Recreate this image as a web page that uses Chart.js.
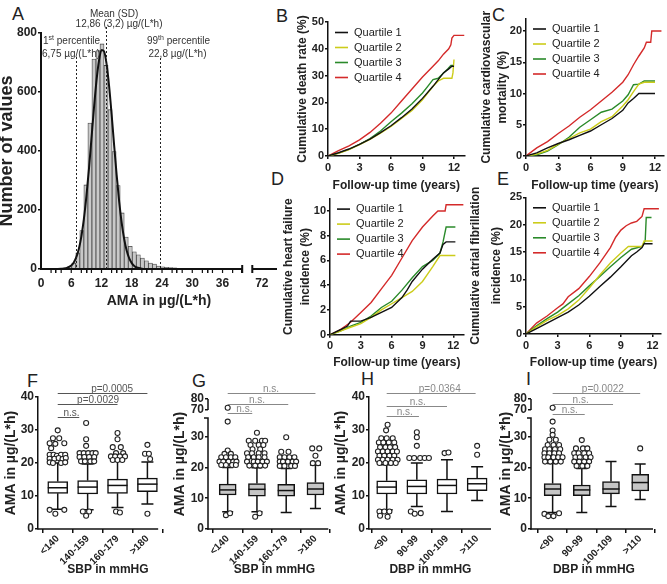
<!DOCTYPE html>
<html>
<head>
<meta charset="utf-8">
<script src="https://cdn.jsdelivr.net/npm/chart.js@4.4.1/dist/chart.umd.min.js"></script>
<style>
  body { margin: 0; background: #fff; }
  #fig { position: relative; width: 667px; height: 584px; overflow: hidden; background: #fff;
         font-family: "Liberation Sans", Arial, Helvetica, sans-serif; }
  #fig canvas { position: absolute; }
  .lt { position: absolute; font-size: 18px; line-height: 18px; color: #222; }
</style>
</head>
<body>
<div id="fig">
  <div class="lt" style="left:12px;top:5px">A</div>
  <div class="lt" style="left:276px;top:7px">B</div>
  <div class="lt" style="left:492px;top:6px">C</div>
  <div class="lt" style="left:271px;top:170px">D</div>
  <div class="lt" style="left:497px;top:170px">E</div>
  <div class="lt" style="left:27px;top:372px">F</div>
  <div class="lt" style="left:192px;top:372px">G</div>
  <div class="lt" style="left:361px;top:370px">H</div>
  <div class="lt" style="left:526px;top:370px">I</div>
</div>
<script>
// ---- A: histogram of AMA values ----
const histCenters = [4.1, 4.9, 5.7, 6.5, 7.3, 8.1, 8.9, 9.7, 10.5, 11.3, 12.1, 12.9, 13.7, 14.5, 15.3, 16.1,
                     16.9, 17.7, 18.5, 19.3, 20.1, 20.9, 21.7, 22.5, 23.3, 24.1, 24.9, 25.7, 26.5, 27.3, 28.1, 28.9];
const histCounts = [2, 4, 8, 20, 55, 130, 285, 495, 712, 740, 763, 690, 540, 398, 283, 190,
                    108, 77, 58, 48, 37, 28, 20, 17, 10, 7, 6, 5, 4, 2, 1, 1];
const fitX = [3, 4, 5, 6, 6.5, 7, 7.5, 8, 8.5, 9, 9.5, 10, 10.5, 11, 11.5, 12, 12.5, 13, 13.5, 14,
              14.5, 15, 15.5, 16, 16.5, 17, 17.5, 18, 18.5, 19, 20, 21];
const fitY = [0, 0.5, 3, 12, 22, 40, 68, 110, 169, 246, 338, 441, 545, 638, 706, 742, 738, 695, 621, 525,
              420, 319, 229, 156, 101, 62, 36, 20, 10, 5, 1, 0];
const refLineValues = [7.0, 12.9, 23.5];          // 1st percentile, mean, 99th percentile
const histTickValues = [0, 6, 12, 18, 24, 30, 36, 43.8];
const histTickLabels = ['0', '6', '12', '18', '24', '30', '36', '72'];
const axisBreak = [39.9, 41.9];

// ---- B-E: cumulative incidence by quartile, [years, %] ----
const quartileLabels = ['Quartile 1', 'Quartile 2', 'Quartile 3', 'Quartile 4'];
const quartileColors = ['#111111', '#cccc1a', '#2a8a2a', '#d42a2a'];

const deathQ1 = [[0,0],[1,1.2],[2,2.6],[3,4.3],[4,6.3],[5,8.7],[6,11.3],[7,14.3],[8,17.5],[9,21.5],[10,26],[10.5,28.5],[11,31],[11.5,32.5],[11.8,33.5],[12,33.5]];
const deathQ2 = [[0,0],[1,1],[2,2.4],[3,4.2],[4,6.2],[5,8.5],[6,11],[7,14],[8,17],[9,21],[10,26],[10.5,28],[11,29],[11.8,29],[11.9,31],[12,36]];
const deathQ3 = [[0,0],[1,1.1],[2,2.5],[3,4.3],[4,6.5],[5,9.3],[6,12.8],[7,16],[8,19.5],[9,23.5],[9.5,26],[10,28.5],[10.5,29],[11,31],[11.4,32.5],[11.7,33.8],[12,33.8]];
const deathQ4 = [[0,0],[1,2],[2,3.8],[3,6],[4,8.8],[5,12.2],[6,16],[7,20.5],[8,25],[9,29.5],[10,33.5],[10.5,35.5],[11,38],[11.5,40],[11.7,41.5],[11.8,44],[12,45],[13,45]];

const cvQ1 = [[0,0],[1,0.5],[2,1.3],[3,2],[4,2.6],[5,3.3],[6,4],[7,5],[8,6],[9,7.3],[9.5,8.5],[10,9.2],[10.5,10],[12,10]];
const cvQ2 = [[0,0],[1,0.3],[2,0.9],[3,1.9],[4,2.8],[5,3.7],[6,4.3],[7,5.5],[8,6.3],[9,8],[9.5,9],[10,10.3],[10.5,11.5],[11,11.8],[12,11.8]];
const cvQ3 = [[0,0],[1,0.2],[2,0.8],[3,1.8],[4,3],[5,4.6],[6,5.8],[7,7],[8,7.5],[9,8.8],[9.5,9.8],[10,11.4],[10.5,11.5],[11,12],[12,12]];
const cvQ4 = [[0,0],[1,1.3],[2,2.3],[3,3.6],[4,4.8],[5,6.2],[6,7.4],[7,8.8],[8,10.2],[9,11.8],[9.5,13],[10,14.6],[10.5,16],[11,17.3],[11.2,18.2],[11.6,18.2],[11.7,20],[12.6,20]];

const hfQ1 = [[0,0],[1,0.4],[1.7,0.7],[2,1.1],[3,1.1],[4,1.4],[5,1.8],[6,2.2],[7,3],[7.5,3.6],[8,4.3],[9,5.3],[10,6.1],[10.7,6.6],[11,7.3],[11.3,7.5],[12.2,7.5]];
const hfQ2 = [[0,0],[1,0.3],[2,0.6],[3,0.9],[4,1.4],[5,2],[6,2.5],[7,3],[8,3.5],[9,4.3],[10,5.5],[10.7,6.4],[12.2,6.4]];
const hfQ3 = [[0,0],[1,0.3],[2,0.7],[3,1],[4,1.5],[5,2.2],[6,2.7],[7,3.6],[8,4.6],[9,5.5],[10,6],[10.7,6.6],[11,7.5],[11.3,8.7],[12.2,8.7]];
const hfQ4 = [[0,0],[0.8,0.3],[1.5,0.7],[2,1],[3,1.8],[4,2.6],[5,3.7],[6,4.8],[7,6.2],[8,7.6],[9,8.7],[10,9.6],[10.5,10],[11.2,10],[11.3,10.5],[13,10.5]];

const afQ1 = [[0,0],[1,1],[2,2],[3,3],[4,4],[5,5.3],[6,6.9],[7,8.7],[8,10.4],[9,12.3],[10,14.3],[10.5,15],[11,15.8],[11.2,16.5],[12,16.5]];
const afQ2 = [[0,0],[1,1.3],[2,2.5],[3,3.4],[4,4.6],[5,6.2],[6,8.4],[7,10.8],[8,13],[9,14.8],[9.7,16],[11,16],[11.2,17],[12,17]];
const afQ3 = [[0,0],[1,1.5],[2,2.8],[3,4],[4,5.5],[5,7],[6,8.8],[7,10.5],[8,12.3],[9,14],[10,15.5],[11,16],[11.3,17],[11.4,21.3],[11.9,21.3]];
const afQ4 = [[0,0],[0.5,1],[1,2],[2,3.3],[3,4.8],[3.5,5.5],[4,6.8],[5,8.3],[6,10.5],[7,13],[8,15.8],[8.5,17.7],[9,19],[9.5,19.8],[10,20.3],[10.5,20.6],[11,21.5],[11.2,22.9],[12.6,22.9]];

// ---- F-I: AMA by blood pressure group, box = [low whisker, q1, median, q3, high whisker] ----
const sbpGroups = ['<140', '140-159', '160-179', '>180'];
const dbpGroups = ['<90', '90-99', '100-109', '>110'];

const boxF = [[6.0,10.8,12.5,14.4,20],[5.8,10.6,12.7,14.7,19.7],[6.5,10.8,13.2,15.1,20.5],[7.6,11.3,13.6,15.4,20.3]];
const boxG = [[5.6,11.05,12.7,14.6,20],[5.6,10.7,12.9,14.8,19.9],[5.4,10.7,12.5,14.5,19.7],[6.7,11.05,13,15.1,20.8]];
const boxH = [[5.8,10.6,12.7,14.6,19.5],[6.8,10.6,12.9,14.9,20],[5.3,10.6,13.2,15.1,21],[8.6,11.6,13.7,15.4,18.9]];
const boxI = [[5.4,10.8,13,14.8,21.3],[5.4,10.8,12.7,14.3,19.7],[7.3,11.4,13,15.4,21.9],[9.6,12.35,15.1,17.8,21.1]];

// outliers: [group, horizontal spread, value]
const outF = [
  [0,0,29.9],[0,-0.16,27.5],[0,0.05,27.5],[0,-0.27,26],[0,-0.08,25.8],[0,0.22,26],[0,-0.22,24.5],
  [0,-0.27,22.5],[0,-0.14,22.5],[0,-0.03,22.2],[0,0.11,22.5],[0,0.25,22.5],
  [0,-0.27,21.3],[0,-0.11,21.3],[0,0.03,21.5],[0,0.16,21.2],[0,0.27,21.5],
  [0,-0.27,20.2],[0,-0.16,20],[0,0.11,20],[0,0.25,20.2],[0,-0.27,5.8],[0,-0.08,4.6],[0,0.22,5.8],
  [1,-0.05,32.1],[1,-0.05,27.2],[1,-0.05,25.2],[1,-0.27,23],[1,-0.13,23],[1,0.02,23],[1,0.16,23],[1,0.27,23],
  [1,-0.27,21.8],[1,-0.11,21.8],[1,0.05,21.8],[1,0.22,21.8],[1,-0.22,20.5],[1,-0.09,20.5],[1,0.09,20.5],[1,0.22,20.5],
  [1,-0.16,5.3],[1,0.05,5.3],[1,-0.05,4],
  [2,0,29.1],[2,0,27.2],[2,-0.16,24.8],[2,0.11,24.8],[2,-0.05,23],[2,0.19,23],
  [2,-0.22,22],[2,-0.08,22],[2,0.08,22],[2,0.25,22],[2,-0.16,20.9],[2,0,20.9],[2,0.16,20.9],[2,-0.05,5.3],[2,0.08,5],
  [3,0,25.5],[3,-0.08,22.8],[3,0.05,22.8],[3,0.09,21.2],[3,0,4.6]
];
const outG = [
  [0,0,72],[0,0,34.9],[0,0,25.5],[0,-0.11,24.4],[0,0.11,24.4],
  [0,-0.22,23.3],[0,-0.06,23.3],[0,0.11,23.3],[0,0.26,23.3],
  [0,-0.28,21.9],[0,-0.15,21.9],[0,0.03,21.9],[0,0.19,21.9],[0,0.3,21.9],
  [0,-0.22,20.8],[0,-0.06,20.8],[0,0.15,20.8],[0,0.28,20.8],[0,-0.06,4.5],[0,0.08,5.1],
  [1,0,31.3],[1,-0.28,28.7],[1,-0.06,28.7],[1,0.17,28.7],[1,0.28,28.7],[1,-0.22,27.3],[1,0.06,27.3],[1,0.22,27.3],
  [1,-0.15,25.9],[1,0.11,25.9],[1,-0.34,24.6],[1,-0.17,24.6],[1,0.06,24.6],[1,0.26,24.6],
  [1,-0.3,23.3],[1,-0.11,23.3],[1,0.06,23.3],[1,0.26,23.3],
  [1,-0.34,21.9],[1,-0.11,21.9],[1,0.03,21.9],[1,0.19,21.9],[1,0.34,21.9],
  [1,-0.26,20.6],[1,-0.06,20.6],[1,0.11,20.6],[1,0.28,20.6],[1,-0.06,4],[1,0.09,5.1],
  [2,0,29.8],[2,-0.17,25.1],[2,0.08,25.1],[2,-0.22,23.3],[2,-0.06,23.3],[2,0.11,23.3],[2,0.28,23.3],
  [2,-0.22,21.9],[2,-0.11,21.9],[2,0.06,21.9],[2,0.22,21.9],[2,0.34,21.9],
  [2,-0.22,20.5],[2,-0.06,20.5],[2,0.17,20.5],[2,0.3,20.5],
  [3,-0.11,26.2],[3,0.13,26.2],[3,0,23.8],[3,-0.09,21.4],[3,0.09,21.4]
];
const outH = [
  [0,0.03,31.6],[0,-0.02,29.9],[0,-0.18,27.5],[0,0,27.5],[0,0.2,27.5],
  [0,-0.26,26.2],[0,-0.11,26.2],[0,0.07,26.2],[0,0.25,26.2],
  [0,-0.22,24.8],[0,-0.04,24.8],[0,0.11,24.8],[0,0.28,24.8],
  [0,-0.29,23.5],[0,-0.13,23.5],[0,0.03,23.5],[0,0.2,23.5],[0,0.34,23.5],
  [0,-0.24,22.2],[0,-0.08,22.2],[0,0.09,22.2],[0,0.25,22.2],
  [0,-0.29,21],[0,-0.13,21],[0,0.03,21],[0,0.2,21],[0,0.36,21],
  [0,-0.24,20],[0,-0.04,20],[0,0.14,20],[0,0.3,20],
  [0,-0.24,5.3],[0,-0.08,5.3],[0,0.09,5.3],[0,-0.22,4],[0,0.03,3.7],
  [1,0,29.3],[1,0,27.8],[1,0,25.2],[1,-0.25,21.5],[1,-0.09,21.5],[1,0.11,21.5],[1,0.26,21.5],[1,0.4,21.5],
  [1,-0.2,5.3],[1,-0.07,4.6],[1,0.13,4.8],
  [2,-0.08,23],[2,0.05,23.2],
  [3,0,25.2],[3,0,22.5]
];
const outI = [
  [0,0,72],[0,0,34.9],[0,0,32],[0,0,30.6],[0,-0.11,29],[0,0.11,29],
  [0,-0.17,27.3],[0,0.03,27.3],[0,0.22,27.3],[0,-0.26,25.9],[0,-0.11,25.9],[0,0.08,25.9],[0,0.26,25.9],
  [0,-0.28,24.6],[0,-0.11,24.6],[0,0.06,24.6],[0,0.22,24.6],
  [0,-0.28,23.3],[0,-0.15,23.3],[0,0.03,23.3],[0,0.19,23.3],[0,0.34,23.3],
  [0,-0.26,21.9],[0,-0.08,21.9],[0,0.11,21.9],[0,0.28,21.9],
  [0,-0.28,4.9],[0,-0.15,4.2],[0,0.03,4.2],[0,0.22,5.1],
  [1,0,28.9],[1,-0.2,26.2],[1,0.04,26.2],[1,0.19,26.2],
  [1,-0.26,24.6],[1,-0.11,24.6],[1,0.08,24.6],[1,0.25,24.6],
  [1,-0.22,23.3],[1,-0.07,23.3],[1,0.13,23.3],[1,0.3,23.3],
  [1,-0.26,21.9],[1,-0.09,21.9],[1,0.08,21.9],[1,0.25,21.9],
  [1,-0.18,20.5],[1,0.02,20.5],[1,0.19,20.5],
  [3,0,26.2]
];

// significance brackets: [from group, to group, height, label, label position]
const sigF = [[0,3,41.2,'p=0.0005',1.82],[0,2,37.9,'p=0.0029',1.35],[0,0.72,33.9,'n.s.',0.46]];
const sigG = [[0,3,44.2,'n.s.',1.48],[0,2.07,40.6,'n.s.',1.0],[0,0.84,37.7,'n.s.',0.57]];
const sigH = [[0,2.95,41.2,'p=0.0364',1.76],[0,2,37.3,'n.s.',1.03],[0,1.07,34.2,'n.s.',0.6]];
const sigI = [[0,3,44.2,'p=0.0022',1.72],[0,2.07,40.6,'n.s.',0.96],[0,1.1,37.4,'n.s.',0.59]];

const brokenTicks = [0, 10, 20, 30, 70, 80];

// ---------------------------------------------------------------
const FONT = '"Liberation Sans", Arial, Helvetica, sans-serif';
Chart.defaults.font.family = FONT;
Chart.defaults.color = '#222';
Chart.defaults.animation = false;
Chart.defaults.responsive = false;
Chart.defaults.plugins.legend.display = false;
Chart.defaults.plugins.tooltip.enabled = false;

const fig = document.getElementById('fig');

function addCanvas(box) {
  const c = document.createElement('canvas');
  c.width = box.w; c.height = box.h;
  c.style.left = box.l + 'px'; c.style.top = box.t + 'px';
  c.style.width = box.w + 'px'; c.style.height = box.h + 'px';
  fig.appendChild(c);
  return c;
}

function padding(box, plot) {
  return { top: plot.t - box.t, right: box.l + box.w - plot.r, left: 0, bottom: 0 };
}

// upper part of the broken axis (70-80) is squeezed above 36
function brokenY(v) {
  return v >= 60 ? 38.7 + (v - 70) * 0.355 : v;
}

// ---------------- Panel A ----------------
const histDecor = {
  id: 'histDecor',
  afterDatasetsDraw(chart) {
    const { ctx, chartArea: a, scales: { x } } = chart;
    ctx.save();
    ctx.strokeStyle = '#222';
    ctx.lineWidth = 1;
    ctx.setLineDash([2, 2]);
    const tops = [24, -6, 25];
    refLineValues.forEach((v, i) => {
      const px = Math.round(x.getPixelForValue(v)) + 0.5;
      ctx.beginPath();
      ctx.moveTo(px, a.top + tops[i]);
      ctx.lineTo(px, a.bottom);
      ctx.stroke();
    });
    ctx.setLineDash([]);

    // x axis with a break before 72
    const yb = a.bottom;
    ctx.strokeStyle = '#111';
    ctx.lineWidth = 2;
    ctx.beginPath();
    ctx.moveTo(a.left - 1, yb);
    ctx.lineTo(x.getPixelForValue(axisBreak[0]), yb);
    ctx.moveTo(x.getPixelForValue(axisBreak[1]), yb);
    ctx.lineTo(a.right, yb);
    axisBreak.forEach(v => {
      const px = x.getPixelForValue(v);
      ctx.moveTo(px, yb - 4);
      ctx.lineTo(px, yb + 4);
    });
    ctx.stroke();
    // minor ticks
    ctx.lineWidth = 1.2;
    ctx.beginPath();
    for (let v = 2; v < axisBreak[0]; v += 2) {
      const px = x.getPixelForValue(v);
      ctx.moveTo(px, yb);
      ctx.lineTo(px, yb + 4);
    }
    ctx.stroke();
    ctx.restore();
  },
  afterDraw(chart) {
    const { ctx, chartArea: a, scales: { x } } = chart;
    ctx.save();
    ctx.fillStyle = '#333';
    ctx.textBaseline = 'middle';
    ctx.font = '10px ' + FONT;

    function supText(base, sup, rest, px, py, align) {
      ctx.font = '10px ' + FONT;
      const w1 = ctx.measureText(base).width, w3 = ctx.measureText(rest).width;
      ctx.font = '7px ' + FONT;
      const w2 = ctx.measureText(sup).width;
      let sx = align === 'center' ? px - (w1 + w2 + w3) / 2 : px;
      ctx.textAlign = 'left';
      ctx.font = '10px ' + FONT;
      ctx.fillText(base, sx, py);
      ctx.font = '7px ' + FONT;
      ctx.fillText(sup, sx + w1, py - 3);
      ctx.font = '10px ' + FONT;
      ctx.fillText(rest, sx + w1 + w2, py);
    }

    const xm = x.getPixelForValue(refLineValues[1]);
    const x99 = x.getPixelForValue(refLineValues[2]);
    ctx.textAlign = 'center';
    ctx.fillText('Mean (SD)', xm + 8, a.top - 19);
    ctx.fillText('12,86 (3,2) µg/(L*h)', xm + 13, a.top - 8.5);
    ctx.fillText('22,8 µg/(L*h)', x99 + 18, a.top + 21);
    supText('99', 'th', ' percentile', x99 + 19, a.top + 8, 'center');
    supText('1', 'st', ' percentile', a.left + 2, a.top + 8, 'left');
    ctx.textAlign = 'left';
    ctx.fillText('6,75 µg/(L*h)', a.left + 1, a.top + 21);
    ctx.restore();
  }
};

(function () {
  const box = { l: -2, t: 0, w: 292, h: 310 };
  const plot = { l: 41, t: 33, r: 277, b: 269 };
  new Chart(addCanvas(box), {
    type: 'bar',
    data: {
      datasets: [
        {
          type: 'line', order: 0,
          data: fitX.map((v, i) => ({ x: v, y: fitY[i] })),
          borderColor: '#111', borderWidth: 2, pointRadius: 0,
          cubicInterpolationMode: 'monotone', fill: false
        },
        {
          type: 'bar', order: 1,
          data: histCenters.map((v, i) => ({ x: v, y: histCounts[i] })),
          backgroundColor: '#c9c9c9', borderColor: '#444', borderWidth: 0.8,
          barPercentage: 1, categoryPercentage: 1
        }
      ]
    },
    options: {
      layout: { padding: padding(box, plot) },
      scales: {
        x: {
          type: 'linear', min: 0, max: 46.8, offset: false,
          afterBuildTicks: s => { s.ticks = histTickValues.map(v => ({ value: v })); },
          ticks: { callback: (v, i) => histTickLabels[i], font: { size: 12, weight: 'bold' }, padding: 3, maxRotation: 0, autoSkip: false },
          grid: { drawOnChartArea: false, tickLength: 4, color: '#111', lineWidth: 1.5 },
          border: { display: false },
          title: { display: true, text: 'AMA in µg/(L*h)', font: { size: 14, weight: 'bold', lineHeight: 1.2 }, padding: 0, color: '#222' },
          afterFit: s => { s.height = box.t + box.h - plot.b; }
        },
        y: {
          min: 0, max: 800,
          ticks: { stepSize: 200, font: { size: 12, weight: 'bold' }, padding: 1 },
          grid: { drawOnChartArea: false, tickLength: 3, color: '#111', lineWidth: 1.5 },
          border: { color: '#111', width: 2 },
          title: { display: true, text: 'Number of values', font: { size: 18, weight: 'bold', lineHeight: 1 }, padding: 0, color: '#222' },
          afterFit: s => { s.width = plot.l - box.l; }
        }
      }
    },
    plugins: [histDecor]
  });
})();

// ---------------- Panels B-E ----------------
const quartLegend = {
  id: 'quartLegend',
  afterDraw(chart) {
    const { ctx, chartArea: a } = chart;
    ctx.save();
    ctx.font = '11px ' + FONT;
    ctx.textBaseline = 'middle';
    ctx.textAlign = 'left';
    chart.data.datasets.forEach((d, i) => {
      const y = a.top + 10.5 + 15 * i;
      ctx.strokeStyle = d.borderColor;
      ctx.lineWidth = 1.6;
      ctx.beginPath();
      ctx.moveTo(a.left + 7, y);
      ctx.lineTo(a.left + 20, y);
      ctx.stroke();
      ctx.fillStyle = '#222';
      ctx.fillText(d.label, a.left + 26, y);
    });
    ctx.restore();
  }
};

function kmPanel(box, plot, series, xMax, yMax, yStep, yTitle, titleLH) {
  new Chart(addCanvas(box), {
    type: 'line',
    data: {
      datasets: series.map((s, i) => ({
        label: quartileLabels[i],
        data: s.map(p => ({ x: p[0], y: p[1] })),
        borderColor: quartileColors[i],
        borderWidth: 1.4,
        pointRadius: 0,
        tension: 0,
        fill: false
      }))
    },
    options: {
      layout: { padding: padding(box, plot) },
      scales: {
        x: {
          type: 'linear', min: 0, max: xMax,
          ticks: { stepSize: 3, includeBounds: false, font: { size: 11, weight: 'bold' }, padding: 2, maxRotation: 0 },
          grid: { drawOnChartArea: false, tickLength: 3, color: '#111', lineWidth: 1.5 },
          border: { color: '#111', width: 1.5 },
          title: { display: true, text: 'Follow-up time (years)', font: { size: 12, weight: 'bold', lineHeight: 1.2 }, padding: 0, color: '#222' },
          afterFit: s => { s.height = box.t + box.h - plot.b; }
        },
        y: {
          min: 0, max: yMax,
          ticks: { stepSize: yStep, includeBounds: false, font: { size: 11, weight: 'bold' }, padding: 1 },
          grid: { drawOnChartArea: false, tickLength: 3, color: '#111', lineWidth: 1.5 },
          border: { color: '#111', width: 1.5 },
          title: { display: true, text: yTitle, font: { size: 12, weight: 'bold', lineHeight: titleLH }, padding: 0, color: '#222' },
          afterFit: s => { s.width = plot.l - box.l; }
        }
      }
    },
    plugins: [quartLegend]
  });
}

kmPanel({ l: 295, t: 0, w: 175, h: 193 }, { l: 328, t: 22, r: 464.5, b: 156 },
  [deathQ1, deathQ2, deathQ3, deathQ4], 13, 50, 10, 'Cumulative death rate (%)', '14.4px');
kmPanel({ l: 479, t: 0, w: 188, h: 193 }, { l: 526, t: 18.5, r: 663.6, b: 156 },
  [cvQ1, cvQ2, cvQ3, cvQ4], 12.8, 22, 5, ['Cumulative cardiovascular', 'mortality (%)'], '16px');
kmPanel({ l: 280, t: 175, w: 190, h: 195 }, { l: 330, t: 198.6, r: 463.6, b: 334.7 },
  [hfQ1, hfQ2, hfQ3, hfQ4], 13, 11, 2, ['Cumulative heart failure', 'incidence (%)'], '17px');
kmPanel({ l: 465, t: 175, w: 202, h: 195 }, { l: 526, t: 197.3, r: 661, b: 334 },
  [afQ1, afQ2, afQ3, afQ4], 12.8, 25, 5, ['Cumulative atrial fibrillation', 'incidence (%)'], '21px');

// ---------------- Panels F-I ----------------
function boxDecor(cfg) {
  return {
    id: 'boxDecor',
    beforeDatasetsDraw(chart) {
      const { ctx, scales: { x, y } } = chart;
      ctx.save();
      ctx.strokeStyle = '#111';
      ctx.lineWidth = 1.5;
      cfg.stats.forEach((s, i) => {
        const px = x.getPixelForValue(i);
        const lo = y.getPixelForValue(s[0]), q1 = y.getPixelForValue(s[1]);
        const q3 = y.getPixelForValue(s[3]), hi = y.getPixelForValue(s[4]);
        ctx.beginPath();
        ctx.moveTo(px, lo); ctx.lineTo(px, q1);
        ctx.moveTo(px, q3); ctx.lineTo(px, hi);
        ctx.moveTo(px - cfg.capW, lo); ctx.lineTo(px + cfg.capW, lo);
        ctx.moveTo(px - cfg.capW, hi); ctx.lineTo(px + cfg.capW, hi);
        ctx.stroke();
      });
      ctx.restore();
    },
    afterDatasetsDraw(chart) {
      const { ctx, scales: { x, y } } = chart;
      ctx.save();
      ctx.strokeStyle = '#111';
      ctx.lineWidth = 1.5;
      cfg.stats.forEach((s, i) => {
        const px = x.getPixelForValue(i);
        const md = y.getPixelForValue(s[2]);
        ctx.beginPath();
        ctx.moveTo(px - cfg.barW / 2, md);
        ctx.lineTo(px + cfg.barW / 2, md);
        ctx.stroke();
      });
      ctx.restore();
    },
    afterDraw(chart) {
      const { ctx, chartArea: a, scales: { x, y } } = chart;
      ctx.save();
      ctx.strokeStyle = '#111';
      ctx.lineWidth = 1.5;
      // x axis line
      ctx.beginPath();
      ctx.moveTo(a.left - 0.75, a.bottom);
      ctx.lineTo(x.getPixelForValue(cfg.axisEnd), a.bottom);
      ctx.stroke();
      if (cfg.broken) {
        const top1 = y.getPixelForValue(36.1);
        ctx.beginPath();
        ctx.moveTo(a.left, a.bottom + 0.75);
        ctx.lineTo(a.left, top1);
        ctx.lineTo(a.left - 4, top1);
        ctx.moveTo(a.left, y.getPixelForValue(brokenY(70)));
        ctx.lineTo(a.left, y.getPixelForValue(brokenY(80)));
        ctx.stroke();
      }
      // significance brackets
      ctx.strokeStyle = cfg.sigColor;
      ctx.fillStyle = cfg.sigColor;
      ctx.lineWidth = 1;
      ctx.font = '10px ' + FONT;
      ctx.textAlign = 'center';
      ctx.textBaseline = 'alphabetic';
      cfg.sig.forEach(([g0, g1, h, label, lx]) => {
        const py = Math.round(y.getPixelForValue(h)) + 0.5;
        ctx.beginPath();
        ctx.moveTo(x.getPixelForValue(g0), py);
        ctx.lineTo(x.getPixelForValue(g1), py);
        ctx.stroke();
        ctx.fillText(label, x.getPixelForValue(lx), py - 1.5);
      });
      ctx.restore();
    }
  };
}

function boxPanel(box, plot, cfg) {
  const mapY = cfg.broken ? brokenY : (v => v);
  const yScale = {
    min: 0, max: cfg.yMax,
    ticks: { stepSize: 10, includeBounds: false, font: { size: 12, weight: 'bold' }, padding: 1 },
    grid: { drawOnChartArea: false, tickLength: 3, color: '#111', lineWidth: 1.5 },
    border: { display: !cfg.broken, color: '#111', width: 1.5 },
    title: { display: true, text: 'AMA in µg/(L*h)', font: { size: 14, weight: 'bold', lineHeight: 1.2 }, padding: 0, color: '#222' },
    afterFit: s => { s.width = plot.l - box.l; }
  };
  if (cfg.broken) {
    yScale.afterBuildTicks = s => { s.ticks = brokenTicks.map(v => ({ value: brokenY(v) })); };
    yScale.ticks.callback = (v, i) => String(brokenTicks[i]);
  }
  new Chart(addCanvas(box), {
    type: 'bar',
    data: {
      datasets: [
        {
          type: 'scatter', order: 0,
          data: cfg.outliers.map(o => ({ x: o[0] + o[1], y: mapY(o[2]) })),
          pointRadius: 2.5, pointBorderWidth: 1.1,
          pointBorderColor: '#222', pointBackgroundColor: '#fff'
        },
        {
          type: 'bar', order: 1,
          data: cfg.stats.map((s, i) => ({ x: i, y: [s[1], s[3]] })),
          backgroundColor: cfg.fill, borderColor: '#111', borderWidth: 1.5,
          borderSkipped: false, barThickness: cfg.barW
        }
      ]
    },
    options: {
      layout: { padding: padding(box, plot) },
      scales: {
        x: {
          type: 'linear', min: cfg.xMin, max: cfg.xMax, offset: false,
          afterBuildTicks: s => { s.ticks = cfg.groups.map((g, i) => ({ value: i })); },
          ticks: { callback: (v, i) => cfg.groups[i], minRotation: 45, maxRotation: 45, autoSkip: false,
                   font: { size: 10, weight: 'bold' }, padding: 0 },
          grid: { drawOnChartArea: false, tickLength: 4, color: '#111', lineWidth: 1.5 },
          border: { display: false },
          title: { display: true, text: cfg.xTitle, font: { size: 12, weight: 'bold', lineHeight: 1.2 }, padding: 0, color: '#222' },
          afterFit: s => { s.height = box.t + box.h - plot.b; }
        },
        y: yScale
      }
    },
    plugins: [boxDecor(cfg)]
  });
}

boxPanel({ l: 3, t: 370, w: 180, h: 207 }, { l: 38, t: 397, r: 180, b: 529 }, {
  groups: sbpGroups, stats: boxF, outliers: outF, sig: sigF, sigColor: '#555',
  xMin: -0.66, xMax: 4.02, axisEnd: 3.36, yMax: 40, broken: false,
  fill: '#ffffff', barW: 20, capW: 6, xTitle: 'SBP in mmHG'
});
boxPanel({ l: 172, t: 370, w: 174, h: 207 }, { l: 208, t: 399, r: 343, b: 529 }, {
  groups: sbpGroups, stats: boxG, outliers: outG, sig: sigG, sigColor: '#888',
  xMin: -0.673, xMax: 3.87, axisEnd: 3.44, yMax: 42.25, broken: true,
  fill: '#c6c6c6', barW: 17, capW: 5.5, xTitle: 'SBP in mmHG'
});
boxPanel({ l: 333, t: 370, w: 164, h: 207 }, { l: 369, t: 397, r: 494, b: 529 }, {
  groups: dbpGroups, stats: boxH, outliers: outH, sig: sigH, sigColor: '#888',
  xMin: -0.587, xMax: 3.49, axisEnd: 3.46, yMax: 40, broken: false,
  fill: '#ffffff', barW: 20, capW: 6, xTitle: 'DBP in mmHG'
});
boxPanel({ l: 498, t: 370, w: 164, h: 207 }, { l: 531, t: 399, r: 659, b: 529 }, {
  groups: dbpGroups, stats: boxI, outliers: outI, sig: sigI, sigColor: '#888',
  xMin: -0.741, xMax: 3.573, axisEnd: 3.44, yMax: 42.25, broken: true,
  fill: '#c6c6c6', barW: 17, capW: 5.5, xTitle: 'DBP in mmHG'
});
</script>
</body>
</html>
